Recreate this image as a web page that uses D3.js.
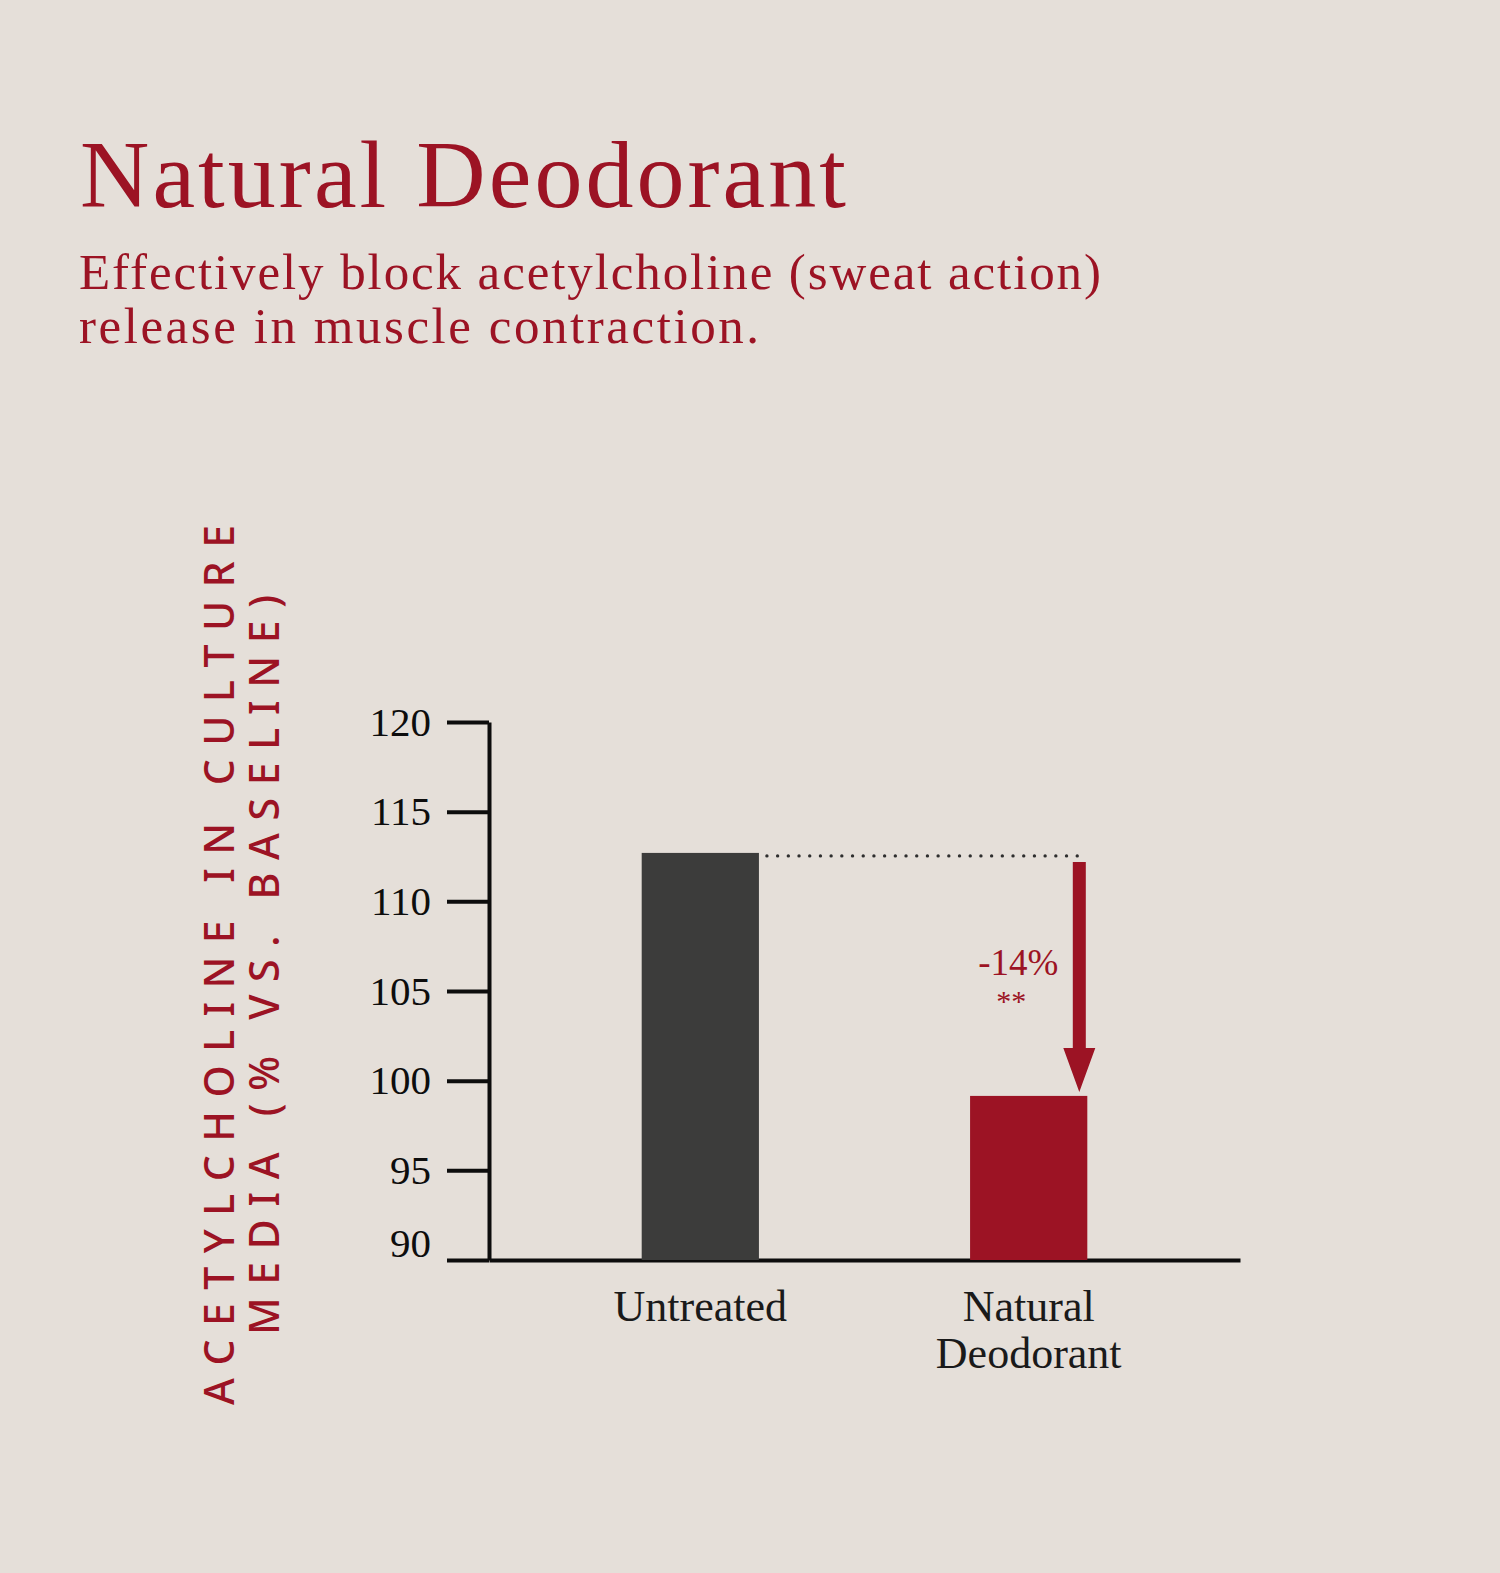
<!DOCTYPE html>
<html>
<head>
<meta charset="utf-8">
<script src="https://cdn.jsdelivr.net/npm/d3@7"></script>
<style>
  html, body { margin: 0; padding: 0; background: #e5dfd9; }
  svg { display: block; }
</style>
</head>
<body>
<div id="chart"></div>
<script>
// chart data
const categories = ['Untreated', 'Natural Deodorant'];
const values = [112.7, 99.15];
const yTicks = [90, 95, 100, 105, 110, 115, 120];
const changeLabel = '-14%';
const significance = '**';
const titleText = 'Natural Deodorant';
const subtitleLines = ['Effectively block acetylcholine (sweat action)', 'release in muscle contraction.'];
const yTitleLines = ['ACETYLCHOLINE IN CULTURE', 'MEDIA (% VS. BASELINE)'];

const RED = '#9c1324';
const DARK = '#3c3c3b';
const INK = '#0d0d0d';
const SERIF = '"Liberation Serif", "DejaVu Serif", serif';

const width = 1500, height = 1573;

const svg = d3.select('#chart')
    .append('svg')
    .attr('width', width)
    .attr('height', height);

svg.append('rect')
    .attr('width', width)
    .attr('height', height)
    .attr('fill', '#e5dfd9');

// heading
svg.append('text')
    .attr('x', 80)
    .attr('y', 207)
    .attr('font-family', SERIF)
    .attr('font-size', 96)
    .attr('fill', RED)
    .attr('textLength', 766)
    .attr('lengthAdjust', 'spacing')
    .text(titleText);

const subWidths = [1022, 680];
subtitleLines.forEach((line, i) => {
  svg.append('text')
      .attr('x', 79)
      .attr('y', 289 + i * 54)
      .attr('font-family', SERIF)
      .attr('font-size', 51)
      .attr('fill', RED)
      .attr('textLength', subWidths[i])
      .attr('lengthAdjust', 'spacing')
      .text(line);
});

// scales
const y = d3.scaleLinear()
    .domain([90, 120])
    .range([1260, 722]);

const x = d3.scaleBand()
    .domain(categories)
    .range([489, 1240])
    .paddingInner(0.643)
    .paddingOuter(0.465);

// y axis
const yAxis = svg.append('g')
    .attr('transform', 'translate(489,0)')
    .call(d3.axisLeft(y).tickValues(yTicks).tickSize(42).tickSizeOuter(0).tickPadding(16));

yAxis.select('.domain').attr('stroke', INK).attr('stroke-width', 4);
yAxis.selectAll('.tick line').attr('stroke', INK).attr('stroke-width', 4);
yAxis.selectAll('.tick text')
    .attr('font-family', SERIF)
    .attr('font-size', 41)
    .attr('fill', INK)
    .attr('dy', (d) => d === 90 ? '-0.08em' : '0.32em');

// x axis (baseline)
const xAxis = svg.append('g')
    .attr('transform', `translate(0,${y(90)})`)
    .call(d3.axisBottom(x).tickSize(0).tickSizeOuter(0).tickFormat(''));

xAxis.select('.domain').attr('stroke', INK).attr('stroke-width', 4);

// category labels
const labelLines = (d) => d === 'Natural Deodorant' ? ['Natural', 'Deodorant'] : [d];
const xLabels = svg.append('g')
    .selectAll('text')
    .data(categories)
    .join('text')
    .attr('x', (d) => x(d) + x.bandwidth() / 2)
    .attr('y', 1321)
    .attr('text-anchor', 'middle')
    .attr('font-family', SERIF)
    .attr('font-size', 44)
    .attr('fill', '#1a1a1a');

xLabels.selectAll('tspan')
    .data((d) => labelLines(d).map((t, i) => ({ t, i, d })))
    .join('tspan')
    .attr('x', (s) => x(s.d) + x.bandwidth() / 2)
    .attr('dy', (s) => s.i === 0 ? 0 : 47)
    .text((s) => s.t);

// bars
svg.append('g')
    .selectAll('rect')
    .data(categories)
    .join('rect')
    .attr('x', (d) => x(d))
    .attr('y', (d, i) => y(values[i]))
    .attr('width', x.bandwidth())
    .attr('height', (d, i) => y(90) - y(values[i]))
    .attr('fill', (d, i) => i === 0 ? DARK : RED);

// reference line from first bar top
const refY = y(values[0]) + 3;
svg.append('line')
    .attr('x1', x(categories[0]) + x.bandwidth() + 8)
    .attr('x2', x(categories[1]) + x.bandwidth())
    .attr('y1', refY)
    .attr('y2', refY)
    .attr('stroke', '#2e2e2e')
    .attr('stroke-width', 3.4)
    .attr('stroke-linecap', 'round')
    .attr('stroke-dasharray', '0,10.7');

// drop arrow
const ax = x(categories[1]) + x.bandwidth() - 8;
const aTop = y(values[0]) + 9;
const aTip = y(values[1]) - 4;
const headH = 44, headW = 16, shaftW = 6.5;
svg.append('path')
    .attr('fill', RED)
    .attr('d', [
      [ax - shaftW, aTop], [ax + shaftW, aTop],
      [ax + shaftW, aTip - headH], [ax + headW, aTip - headH],
      [ax, aTip], [ax - headW, aTip - headH],
      [ax - shaftW, aTip - headH]
    ].map((p, i) => (i ? 'L' : 'M') + p[0] + ',' + p[1]).join('') + 'Z');

svg.append('text')
    .attr('x', ax - 21)
    .attr('y', 975)
    .attr('text-anchor', 'end')
    .attr('font-family', SERIF)
    .attr('font-size', 37)
    .attr('fill', RED)
    .text(changeLabel);

svg.append('text')
    .attr('x', ax - 68)
    .attr('y', 1011)
    .attr('text-anchor', 'middle')
    .attr('font-family', SERIF)
    .attr('font-size', 30)
    .attr('fill', RED)
    .text(significance);

// rotated y title
const yTitleLens = [880, 740];
yTitleLines.forEach((line, i) => {
  svg.append('text')
      .attr('transform', `translate(${234 + i * 45},965) rotate(-90)`)
      .attr('text-anchor', 'middle')
      .attr('font-family', '"Noto Sans", "DejaVu Sans", sans-serif')
      .attr('font-size', 41)
      .attr('font-weight', 500)
      .attr('fill', RED)
      .attr('textLength', yTitleLens[i])
      .attr('lengthAdjust', 'spacing')
      .text(line);
});
</script>
</body>
</html>
